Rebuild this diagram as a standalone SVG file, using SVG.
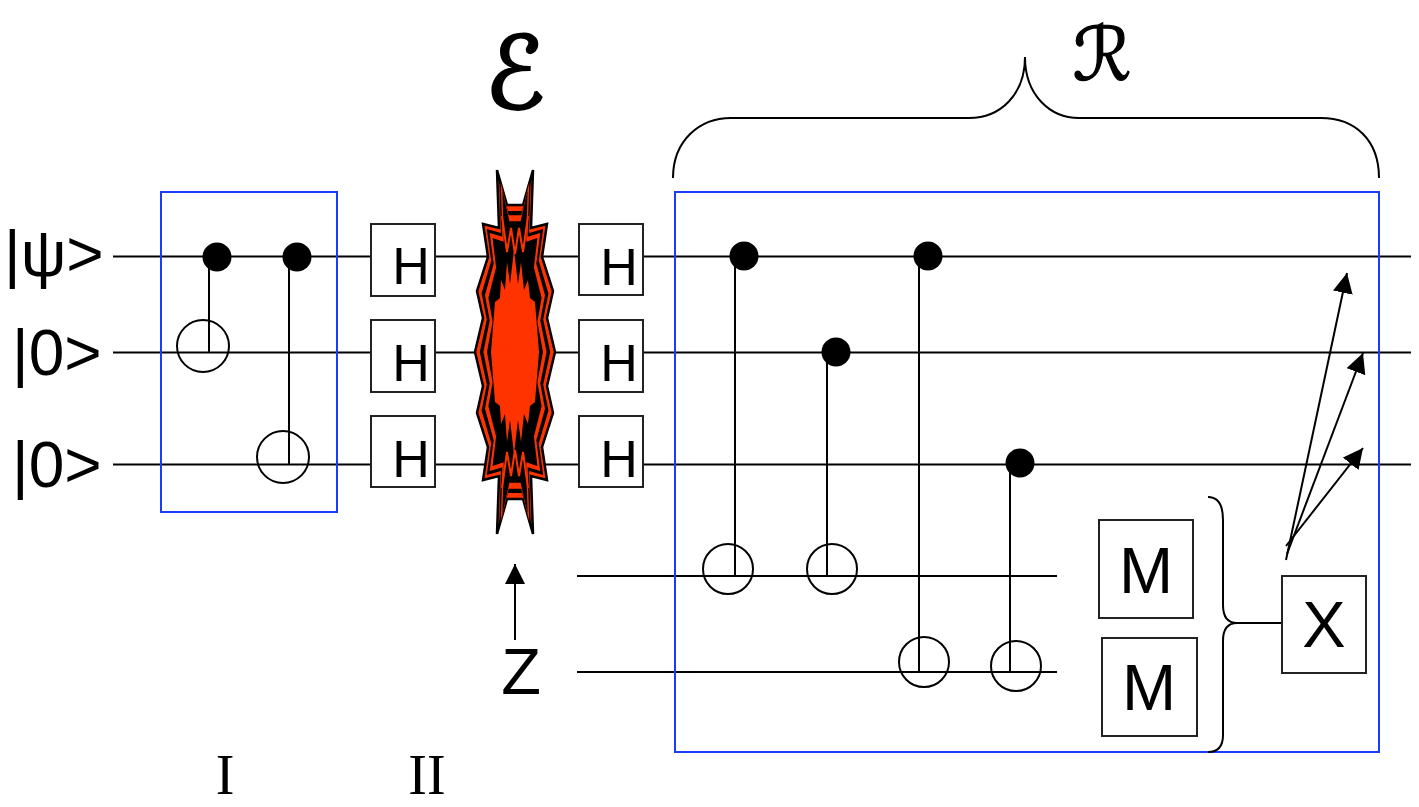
<svg xmlns="http://www.w3.org/2000/svg" width="1419" height="807" viewBox="0 0 1419 807">
<style>
.w{stroke:#000;stroke-width:2;fill:none}
.blue{stroke:#1a3cff;stroke-width:2;fill:none}
.box{stroke:#222;stroke-width:2;fill:#fff}
.dot{fill:#000}
.tgt{stroke:#000;stroke-width:2;fill:none}
.lbl{font-family:"Liberation Sans",Arial,sans-serif;fill:#000}
.ser{font-family:"Liberation Serif","Times New Roman",serif;fill:#000}
.cal{font-family:"DejaVu Serif","DejaVu Sans",serif;font-style:italic;fill:#000;stroke:#000}
</style>
<defs>
<path id="burst" d="M497,170 L507,205 L523,205 L533,170 L531,228 L547,224 L542,257 L553,291 L547,318 L555,352 L547,386 L553,413 L542,447 L547,480 L531,476 L533,534 L523,499 L507,499 L497,534 L499,476 L483,480 L488,447 L477,413 L483,386 L475,352 L483,318 L477,291 L488,257 L483,224 L499,228 Z"/>
<marker id="ah" markerUnits="userSpaceOnUse" markerWidth="22" markerHeight="22" refX="20" refY="10" orient="auto" viewBox="0 0 22 22">
<path d="M0,0 L20,10 L0,20 Z" fill="#000"/>
</marker>
</defs>

<g id="wires">
<line class="w" x1="113" y1="256.5" x2="1411" y2="256.5"/>
<line class="w" x1="113" y1="352.5" x2="1411" y2="352.5"/>
<line class="w" x1="113" y1="464.5" x2="1411" y2="464.5"/>
<line class="w" x1="577" y1="576" x2="1057" y2="576"/>
<line class="w" x1="577" y1="672" x2="1057" y2="672"/>
</g>

<g id="labels-in">
<text class="lbl" x="4" y="275.5" font-size="64">|ψ&gt;</text>
<text class="lbl" x="12" y="374.5" font-size="64">|0&gt;</text>
<text class="lbl" x="12" y="486.5" font-size="64">|0&gt;</text>
</g>

<g id="blockI">
<rect class="blue" x="161" y="192" width="176" height="320"/>
<line class="w" x1="209" y1="257" x2="209" y2="353"/>
<circle class="dot" cx="217" cy="257" r="14.5"/>
<circle class="tgt" cx="203" cy="346" r="26"/>
<line class="w" x1="289" y1="257" x2="289" y2="465"/>
<circle class="dot" cx="297" cy="257" r="14.5"/>
<circle class="tgt" cx="283" cy="457" r="26"/>
</g>

<g id="hadamard1">
<rect class="box" x="371" y="224" width="64" height="72"/>
<rect class="box" x="371" y="320" width="64" height="72"/>
<rect class="box" x="371" y="416" width="64" height="71"/>
<text class="lbl" x="411" y="284" font-size="52" text-anchor="middle">H</text>
<text class="lbl" x="411" y="381" font-size="52" text-anchor="middle">H</text>
<text class="lbl" x="411" y="477" font-size="52" text-anchor="middle">H</text>
</g>

<g id="error">
<use href="#burst" fill="#ff3300" stroke="#000" stroke-width="2.5"/>
<use href="#burst" fill="#000" transform="translate(515,352) scale(0.88,0.96) translate(-515,-352)"/>
<use href="#burst" fill="#ff3300" transform="translate(515,352) scale(0.79,0.93) translate(-515,-352)"/>
<use href="#burst" fill="#000" transform="translate(515,352) scale(0.70,0.89) translate(-515,-352)"/>
<path fill="#ff3300" d="M491,352 L495,302 L500,298 L501,280 L505,290 L507,262 L510,284 L514,250 L518,284 L521,262 L524,290 L528,280 L530,298 L535,302 L539,352 L535,402 L530,406 L528,424 L524,414 L521,442 L518,420 L514,454 L510,420 L507,442 L505,414 L501,424 L500,406 L495,402 Z"/>
<polyline fill="none" stroke="#ff3300" stroke-width="2" points="502,216 507,252 511,228 515,254 519,228 523,252 528,216"/>
<polyline fill="none" stroke="#ff3300" stroke-width="2" points="502,488 507,452 511,476 515,450 519,476 523,452 528,488"/>
<text class="cal" x="515" y="108" font-size="100" text-anchor="middle" stroke-width="2.5">ℰ</text>
</g>

<g id="noise">
<line class="w" x1="515" y1="640" x2="515" y2="564" marker-end="url(#ah)"/>
<text class="lbl" x="521" y="694" font-size="65" text-anchor="middle">Z</text>
</g>

<g id="hadamard2">
<rect class="box" x="579" y="224" width="64" height="71"/>
<rect class="box" x="579" y="320" width="64" height="72"/>
<rect class="box" x="579" y="416" width="64" height="71"/>
<text class="lbl" x="619" y="285" font-size="52" text-anchor="middle">H</text>
<text class="lbl" x="619" y="381" font-size="52" text-anchor="middle">H</text>
<text class="lbl" x="619" y="477" font-size="52" text-anchor="middle">H</text>
</g>

<g id="recovery">
<rect class="blue" x="675" y="192" width="704" height="560"/>
<path class="w" d="M673,178 C673,140 700,118 731,118 L969,118 C1000,118 1025,95 1025,57 C1025,95 1050,118 1079,118 L1321,118 C1355,118 1379,140 1379,178"/>
<text class="cal" x="1102" y="80" font-size="74" text-anchor="middle" stroke-width="1.2">ℛ</text>
<line class="w" x1="735" y1="256" x2="735" y2="576"/>
<circle class="dot" cx="744" cy="256" r="14.5"/>
<circle class="tgt" cx="728" cy="569" r="25"/>
<line class="w" x1="827" y1="352" x2="827" y2="576"/>
<circle class="dot" cx="836" cy="352" r="14.5"/>
<circle class="tgt" cx="832" cy="569" r="25"/>
<line class="w" x1="919" y1="256" x2="919" y2="672"/>
<circle class="dot" cx="928" cy="256" r="14.5"/>
<circle class="tgt" cx="924" cy="662" r="25"/>
<line class="w" x1="1010" y1="463" x2="1010" y2="672"/>
<circle class="dot" cx="1020" cy="463" r="14.5"/>
<circle class="tgt" cx="1016" cy="666" r="25"/>
</g>

<g id="measure">
<rect class="box" x="1099" y="520" width="94" height="98"/>
<rect class="box" x="1102" y="638" width="95" height="98"/>
<text class="lbl" x="1146" y="593" font-size="65" text-anchor="middle">M</text>
<text class="lbl" x="1149" y="710" font-size="65" text-anchor="middle">M</text>
<path class="w" d="M1208,497 C1218,497 1223,505 1223,520 L1223,605 C1223,617 1228,623 1237,623 C1228,623 1223,629 1223,641 L1223,735 C1223,747 1218,752 1208,752"/>
<line class="w" x1="1237" y1="623" x2="1287" y2="623"/>
</g>

<g id="correction">
<rect class="box" x="1282" y="576" width="84" height="97"/>
<text class="lbl" x="1324" y="647" font-size="65" text-anchor="middle">X</text>
</g>

<g id="connectors">
<line class="w" x1="1286" y1="560" x2="1347" y2="273" marker-end="url(#ah)"/>
<line class="w" x1="1287" y1="554" x2="1363" y2="353" marker-end="url(#ah)"/>
<line class="w" x1="1286" y1="546" x2="1363" y2="448" marker-end="url(#ah)"/>
</g>

<g id="stages">
<text class="ser" x="225" y="794" font-size="56" text-anchor="middle">I</text>
<text class="ser" x="427" y="794" font-size="56" text-anchor="middle">II</text>
</g>
</svg>
